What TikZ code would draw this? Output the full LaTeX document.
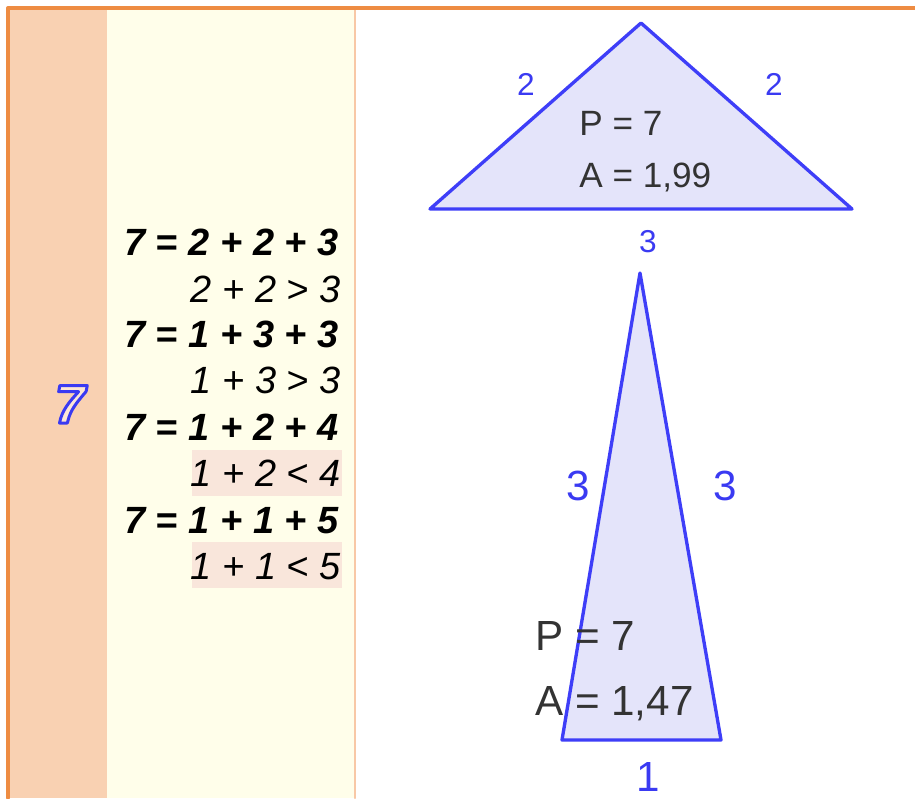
\documentclass[tikz,border=0pt]{standalone}
\usepackage{fontspec}
\setmainfont{Liberation Sans}
\definecolor{bandorange}{HTML}{F9D1B2}
\definecolor{paleyellow}{HTML}{FFFEEA}
\definecolor{linepeach}{HTML}{F8C8A6}
\definecolor{borderorange}{HTML}{EE8C42}
\definecolor{highlight}{HTML}{F9E6DB}
\definecolor{triblue}{HTML}{3E3EF8}
\definecolor{trifill}{HTML}{E4E4FA}
\definecolor{labelblue}{HTML}{3A3AF2}
\definecolor{textgray}{HTML}{333333}
\definecolor{sevenfill}{HTML}{FCE6D6}
% glyph filled and stroked in blue outline
\newcommand\rimglyph[1]{\special{pdf:code q 2 Tr 1.7 w 0.227 0.227 0.949 RG}#1\special{pdf:code Q}}

\begin{document}
\begin{tikzpicture}[x=0.02cm,y=-0.02cm,line cap=round,line join=round,every node/.style={inner sep=0pt}]
  \def\fs{\fontsize{21.6}{25}\selectfont}
  \tikzset{
    sumline/.style={anchor=base west,font=\fs\bfseries\itshape},
    checkline/.style={anchor=base east,font=\fs\itshape},
    tri/.style={draw=triblue,fill=trifill,line width=1.9pt},
    sidelabel/.style={anchor=base,text=labelblue},
    measure/.style={anchor=base west,text=textgray}
  }
  \useasboundingbox (0,0) rectangle (915,798);
  % columns
  \fill[paleyellow] (107,8) rectangle (355,798);
  \fill[bandorange] (8,8) rectangle (107,798);
  \draw[linepeach,line width=1.2pt] (355,8) -- (355,798);
  \draw[borderorange,line width=1.9pt] (8,798) -- (8,8) -- (915,8);
  % outlined seven
  \node (seven) [anchor=base,text=sevenfill,font=\fontsize{31}{34}\selectfont\bfseries\itshape] at (70,423) {\rimglyph{7}};
  % sums
  \fill[highlight] (192,450) rectangle (342,496);
  \fill[highlight] (192,542) rectangle (342,588);
  \node (s1) [sumline] at (124,255) {7 = 2 + 2 + 3};
  \node (c1) [checkline] at (341,302) {2 + 2 > 3};
  \node (s2) [sumline] at (124,347) {7 = 1 + 3 + 3};
  \node (c2) [checkline] at (341,393) {1 + 3 > 3};
  \node (s3) [sumline] at (124,440) {7 = 1 + 2 + 4};
  \node (c3) [checkline] at (341,486) {1 + 2 < 4};
  \node (s4) [sumline] at (124,533) {7 = 1 + 1 + 5};
  \node (c4) [checkline] at (341,579) {1 + 1 < 5};
  % triangle 2-2-3
  \coordinate (ta) at (430,209);
  \coordinate (tb) at (852,209);
  \coordinate (tc) at (641,23);
  \filldraw[tri] (ta) -- (tb) -- (tc) -- cycle;
  \node (ta2) [sidelabel,font=\fontsize{18}{20}\selectfont] at (526,95) {2};
  \node (tb2) [sidelabel,font=\fontsize{18}{20}\selectfont] at (774,95) {2};
  \node (tc3) [sidelabel,font=\fontsize{18}{20}\selectfont] at (648,252) {3};
  \node (tP) [measure,font=\fontsize{20}{22}\selectfont] at (579,135) {P = 7};
  \node (tA) [measure,font=\fontsize{20}{22}\selectfont] at (579,187) {A = 1,99};
  % triangle 3-3-1
  \coordinate (ua) at (562,740);
  \coordinate (ub) at (721,740);
  \coordinate (uc) at (640,273);
  \filldraw[tri] (ua) -- (ub) -- (uc) -- cycle;
  \node (ua3) [sidelabel,font=\fontsize{24}{28}\selectfont] at (578,500) {3};
  \node (ub3) [sidelabel,font=\fontsize{24}{28}\selectfont] at (725,500) {3};
  \node (uc1) [sidelabel,font=\fontsize{24}{28}\selectfont] at (648,791) {1};
  \node (uP) [measure,font=\fontsize{24}{28}\selectfont] at (535,650) {P = 7};
  \node (uA) [measure,font=\fontsize{24}{28}\selectfont] at (535,715) {A = 1,47};
\end{tikzpicture}
\end{document}
